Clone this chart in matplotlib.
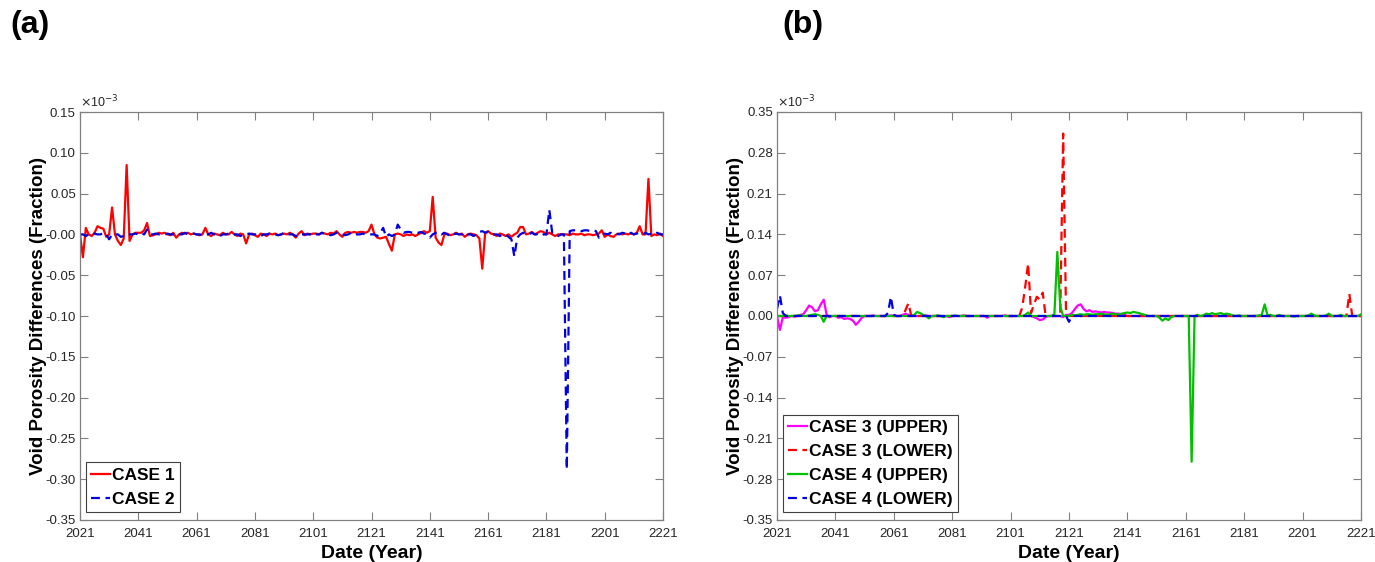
import matplotlib.pyplot as plt
import numpy as np

years = list(range(2021, 2222))

# panel (a), values in units of 1e-3
case_1 = [0.000, -0.028, 0.008, 0.000, -0.002, 0.002, 0.010, 0.008, 0.007, -0.003,
          0.000, 0.033, 0.000, -0.008, -0.013, -0.005, 0.085, -0.008, 0.000, 0.002,
          0.002, 0.002, 0.005, 0.014, -0.002, -0.001, 0.000, 0.002, 0.001, 0.002,
          0.000, -0.001, 0.002, -0.004, 0.000, 0.002, 0.001, 0.002, 0.000, 0.001,
          0.000, -0.001, 0.000, 0.008, 0.000, -0.002, 0.001, 0.000, -0.001, 0.002,
          0.000, 0.000, 0.003, 0.000, -0.002, 0.001, 0.000, -0.011, 0.000, 0.001,
          -0.001, -0.003, 0.001, 0.000, -0.002, 0.001, 0.000, 0.001, -0.001, 0.000,
          0.001, 0.000, 0.002, 0.000, -0.004, 0.001, 0.004, -0.001, 0.001, 0.000,
          0.001, 0.001, 0.000, 0.002, 0.001, 0.000, 0.002, 0.001, 0.004, 0.000,
          -0.003, 0.002, 0.003, 0.002, 0.003, 0.002, 0.003, 0.003, 0.002, 0.004,
          0.012, 0.000, -0.004, -0.005, -0.004, -0.003, -0.012, -0.020, 0.000, 0.001,
          0.000, -0.002, 0.000, -0.001, 0.000, -0.002, 0.000, 0.002, 0.004, 0.002,
          0.004, 0.046, -0.004, -0.010, -0.013, 0.000, 0.001, -0.001, 0.000, 0.002,
          0.000, 0.001, -0.003, 0.000, 0.001, 0.000, -0.001, -0.005, -0.042, 0.002,
          0.004, 0.001, 0.000, -0.002, 0.001, 0.000, -0.002, 0.000, -0.003, 0.000,
          0.002, 0.009, 0.009, 0.000, 0.001, 0.003, 0.000, 0.002, 0.004, 0.003,
          0.000, 0.002, 0.000, -0.002, 0.000, 0.000, 0.000, 0.000, -0.001, 0.001,
          0.000, 0.000, 0.001, -0.001, 0.000, 0.000, -0.001, 0.000, 0.001, 0.005,
          -0.003, 0.000, -0.002, -0.003, 0.000, 0.001, 0.000, 0.001, 0.000, 0.001,
          0.000, 0.002, 0.010, 0.000, 0.000, 0.068, -0.002, 0.000, -0.001, 0.001,
          -0.002]

case_2 = [0.000, 0.000, -0.002, 0.000, 0.000, 0.001, 0.000, 0.000, 0.002, 0.000,
          -0.006, 0.000, 0.000, 0.000, -0.003, -0.002, 0.000, 0.000, 0.000, 0.001,
          0.000, 0.002, 0.000, 0.006, 0.000, 0.000, 0.001, 0.000, 0.000, 0.000,
          0.001, 0.000, 0.000, -0.001, 0.000, 0.000, 0.002, 0.000, 0.000, 0.001,
          0.000, 0.000, -0.001, 0.000, 0.000, 0.002, 0.000, 0.000, -0.002, 0.000,
          0.000, 0.001, 0.000, 0.000, 0.000, -0.002, 0.000, 0.000, 0.001, 0.000,
          0.000, 0.000, -0.002, 0.000, 0.000, 0.001, 0.000, 0.000, -0.001, 0.000,
          0.002, 0.000, 0.000, 0.000, -0.002, 0.000, 0.000, 0.000, 0.000, 0.000,
          -0.002, 0.000, 0.000, 0.002, 0.000, 0.000, -0.001, 0.000, 0.002, 0.000,
          0.000, -0.001, 0.000, 0.002, 0.000, 0.000, 0.000, 0.001, 0.000, 0.000,
          0.000, 0.000, -0.002, 0.002, 0.008, -0.003, 0.000, -0.002, 0.000, 0.012,
          0.006, 0.002, 0.003, 0.003, 0.002, 0.003, 0.002, 0.003, 0.001, 0.000,
          -0.004, 0.000, 0.002, 0.003, 0.000, 0.002, 0.000, -0.002, 0.000, 0.001,
          0.000, 0.000, 0.002, 0.000, 0.000, -0.002, 0.000, 0.003, 0.004, 0.002,
          0.003, 0.000, 0.000, 0.000, -0.002, 0.000, 0.000, -0.003, -0.006, -0.027,
          -0.004, 0.000, 0.002, 0.000, 0.000, 0.002, 0.000, 0.000, -0.002, 0.000,
          0.000, 0.030, 0.002, 0.000, -0.002, 0.000, 0.000, -0.288, 0.004, 0.005,
          0.005, 0.005, 0.004, 0.005, 0.005, 0.004, 0.005, 0.004, -0.004, 0.000,
          0.001, 0.000, 0.002, 0.000, 0.001, 0.000, 0.002, 0.001, 0.000, 0.002,
          0.000, 0.001, 0.002, 0.000, 0.002, 0.000, 0.001, 0.000, 0.002, 0.000,
          0.000]

# panel (b), values in units of 1e-3
case_3_upper = [0.000, -0.024, -0.002, -0.003, -0.002, 0.000, -0.001, 0.000, 0.002, 0.003,
                0.010, 0.018, 0.015, 0.008, 0.010, 0.020, 0.028, 0.002, -0.002, 0.000,
                0.000, -0.003, -0.002, -0.005, -0.004, -0.005, -0.008, -0.015, -0.010, -0.003,
                0.000, 0.000, 0.000, 0.001, 0.000, 0.000, 0.000, 0.000, 0.000, 0.001,
                0.000, 0.000, 0.000, 0.002, 0.004, 0.002, 0.000, 0.000, 0.000, 0.000,
                0.000, 0.001, 0.000, 0.000, 0.000, 0.000, 0.000, 0.000, 0.000, -0.002,
                0.000, 0.000, 0.000, 0.000, 0.001, 0.000, 0.000, 0.000, 0.000, 0.000,
                0.000, 0.000, -0.003, 0.000, 0.000, 0.000, 0.000, 0.000, 0.001, 0.000,
                0.000, 0.000, 0.000, 0.000, 0.000, 0.000, 0.000, 0.000, -0.002, -0.004,
                -0.007, -0.006, -0.002, 0.000, 0.000, 0.000, 0.000, 0.000, -0.002, 0.002,
                0.002, 0.005, 0.012, 0.018, 0.020, 0.012, 0.008, 0.010, 0.007, 0.008,
                0.007, 0.006, 0.007, 0.006, 0.006, 0.005, 0.004, 0.004, 0.003, 0.002,
                0.000, 0.000, 0.000, 0.000, 0.000, 0.000, 0.000, 0.000, 0.000, 0.000,
                0.000, 0.000, 0.000, 0.000, 0.000, 0.000, 0.000, 0.000, 0.000, 0.000,
                0.000, 0.000, 0.000, 0.000, 0.000, 0.000, 0.000, 0.000, 0.000, 0.000,
                0.000, 0.000, 0.000, 0.000, 0.000, 0.000, 0.000, 0.000, 0.000, 0.000,
                0.000, 0.000, 0.000, 0.000, 0.000, 0.000, 0.000, 0.000, 0.000, 0.000,
                0.000, 0.000, 0.000, 0.000, 0.000, 0.000, 0.000, 0.000, 0.000, 0.000,
                0.000, 0.000, 0.000, 0.000, 0.000, 0.000, 0.000, 0.000, 0.000, 0.000,
                0.000, 0.000, 0.000, 0.000, 0.000, 0.000, 0.000, 0.000, 0.000, 0.000,
                0.000]

case_3_lower = [0.000, 0.000, 0.000, 0.000, 0.000, 0.000, 0.000, 0.000, 0.000, 0.000,
                0.000, 0.000, 0.000, 0.000, 0.000, 0.000, 0.000, 0.000, 0.000, 0.000,
                0.000, 0.000, 0.000, 0.000, 0.000, 0.000, 0.000, 0.000, 0.000, 0.000,
                0.000, 0.000, 0.000, 0.000, 0.000, 0.000, 0.000, 0.000, 0.000, 0.000,
                0.000, 0.000, 0.000, 0.000, 0.010, 0.022, 0.000, 0.000, 0.000, 0.000,
                0.000, 0.000, 0.000, 0.000, 0.000, 0.000, 0.000, 0.000, 0.000, 0.000,
                0.000, 0.000, 0.000, 0.000, 0.000, 0.000, 0.000, 0.000, 0.000, 0.000,
                0.000, 0.000, 0.000, 0.000, 0.000, 0.000, 0.000, 0.000, 0.000, 0.000,
                0.000, 0.000, 0.000, 0.000, 0.015, 0.050, 0.090, 0.005, 0.020, 0.033,
                0.028, 0.040, 0.000, 0.000, 0.000, 0.000, 0.000, 0.002, 0.313, 0.000,
                0.000, 0.000, 0.000, 0.000, 0.000, 0.000, 0.000, 0.000, 0.000, 0.000,
                0.000, 0.000, 0.000, 0.000, 0.000, 0.000, 0.000, 0.000, 0.000, 0.000,
                0.000, 0.000, 0.000, 0.000, 0.000, 0.000, 0.000, 0.000, 0.000, 0.000,
                0.000, 0.000, 0.000, 0.000, 0.000, 0.000, 0.000, 0.000, 0.000, 0.000,
                0.000, 0.000, 0.000, 0.000, 0.000, 0.000, 0.000, 0.000, 0.000, 0.000,
                0.000, 0.000, 0.000, 0.000, 0.000, 0.000, 0.000, 0.000, 0.000, 0.000,
                0.000, 0.000, 0.000, 0.000, 0.000, 0.000, 0.000, 0.000, 0.000, 0.000,
                0.000, 0.000, 0.000, 0.000, 0.000, 0.000, 0.000, 0.000, 0.000, 0.000,
                0.000, 0.000, 0.000, 0.000, 0.000, 0.000, 0.000, 0.000, 0.000, 0.000,
                0.000, 0.000, 0.000, 0.000, 0.000, 0.000, 0.038, 0.000, 0.000, 0.000,
                0.000]

case_4_upper = [0.000, 0.000, 0.000, 0.001, 0.000, 0.000, 0.000, 0.001, 0.001, 0.000,
                0.000, 0.001, 0.002, 0.003, 0.002, 0.000, -0.010, 0.000, 0.000, 0.000,
                0.000, 0.000, 0.000, 0.000, 0.000, 0.000, 0.000, 0.000, 0.000, 0.000,
                0.000, 0.000, 0.000, 0.000, 0.000, 0.000, 0.000, 0.000, 0.000, 0.000,
                0.000, 0.000, 0.000, 0.000, 0.000, 0.000, 0.000, 0.002, 0.007, 0.005,
                0.002, 0.000, -0.004, 0.000, 0.000, 0.001, 0.000, -0.002, 0.000, 0.000,
                0.000, 0.001, 0.000, 0.000, 0.000, 0.000, 0.000, 0.000, 0.000, 0.000,
                0.000, 0.000, 0.000, 0.000, 0.000, 0.000, 0.000, 0.000, 0.000, 0.000,
                0.000, 0.000, 0.000, 0.000, 0.000, 0.002, 0.006, 0.000, 0.000, 0.000,
                0.000, 0.000, 0.000, 0.000, 0.000, 0.003, 0.110, 0.016, 0.000, 0.000,
                0.000, 0.002, 0.001, 0.002, 0.003, 0.002, 0.003, 0.003, 0.002, 0.003,
                0.003, 0.004, 0.003, 0.002, 0.003, 0.004, 0.003, 0.002, 0.004, 0.005,
                0.006, 0.005, 0.007, 0.006, 0.005, 0.003, 0.002, 0.000, 0.000, 0.000,
                0.000, -0.003, -0.008, -0.004, -0.007, -0.002, 0.000, 0.000, 0.000, 0.000,
                0.000, 0.000, -0.250, 0.000, 0.002, 0.000, 0.001, 0.004, 0.003, 0.005,
                0.003, 0.004, 0.005, 0.003, 0.004, 0.003, 0.001, 0.000, 0.001, 0.000,
                0.000, 0.000, 0.000, 0.000, 0.000, 0.001, 0.002, 0.020, 0.001, 0.002,
                0.000, 0.000, 0.002, 0.000, 0.000, 0.000, 0.000, -0.001, 0.000, 0.000,
                0.000, 0.000, 0.001, 0.004, 0.001, 0.000, 0.000, 0.000, 0.001, 0.004,
                0.000, 0.000, 0.000, 0.002, 0.000, 0.000, 0.000, 0.000, 0.000, 0.000,
                0.003]

case_4_lower = [0.012, 0.035, 0.005, 0.000, 0.000, 0.000, 0.000, 0.000, 0.000, 0.000,
                0.000, 0.000, 0.000, 0.000, 0.000, 0.000, 0.000, 0.000, 0.000, 0.000,
                0.000, 0.000, 0.000, 0.000, 0.000, 0.000, 0.000, 0.000, 0.000, 0.000,
                0.000, 0.000, 0.000, 0.000, 0.000, 0.000, 0.000, 0.000, 0.005, 0.033,
                0.002, 0.000, 0.000, 0.000, 0.000, 0.000, 0.000, 0.000, 0.000, 0.000,
                0.000, 0.000, 0.000, 0.000, 0.000, 0.000, 0.000, 0.000, 0.000, 0.000,
                0.000, 0.000, 0.000, 0.000, 0.000, 0.000, 0.000, 0.000, 0.000, 0.000,
                0.000, 0.000, 0.000, 0.000, 0.000, 0.000, 0.000, 0.000, 0.000, 0.000,
                0.000, 0.000, 0.000, 0.000, 0.000, 0.000, 0.000, 0.000, 0.000, 0.000,
                0.000, 0.000, 0.000, 0.000, 0.000, 0.000, 0.000, 0.000, 0.000, 0.000,
                -0.010, 0.000, 0.000, 0.000, 0.000, 0.000, 0.000, 0.000, 0.000, 0.000,
                0.000, 0.000, 0.000, 0.000, 0.000, 0.000, 0.000, 0.000, 0.000, 0.000,
                0.000, 0.000, 0.000, 0.000, 0.000, 0.000, 0.000, 0.000, 0.000, 0.000,
                0.000, 0.000, 0.000, 0.000, 0.000, 0.000, 0.000, 0.000, 0.000, 0.000,
                0.000, 0.000, 0.000, 0.000, 0.000, 0.000, 0.000, 0.000, 0.000, 0.000,
                0.000, 0.000, 0.000, 0.000, 0.000, 0.000, 0.000, 0.000, 0.000, 0.000,
                0.000, 0.000, 0.000, 0.000, 0.000, 0.000, 0.000, 0.000, 0.000, 0.000,
                0.000, 0.000, 0.000, 0.000, 0.000, 0.000, 0.000, 0.000, 0.000, 0.000,
                0.000, 0.000, 0.000, 0.000, 0.000, 0.000, 0.000, 0.000, 0.000, 0.000,
                0.000, 0.000, 0.000, 0.000, 0.000, 0.000, 0.000, 0.000, 0.000, 0.000,
                0.000]

x_ticks = [2021, 2041, 2061, 2081, 2101, 2121, 2141, 2161, 2181, 2201, 2221]
y_ticks_a = [0.15, 0.10, 0.05, 0.0, -0.05, -0.10, -0.15, -0.20, -0.25, -0.30, -0.35]
y_labels_a = ["0.15", "0.10", "0.05", "-0.00", "-0.05", "-0.10", "-0.15", "-0.20", "-0.25", "-0.30", "-0.35"]
y_ticks_b = [0.35, 0.28, 0.21, 0.14, 0.07, 0.0, -0.07, -0.14, -0.21, -0.28, -0.35]
y_labels_b = ["0.35", "0.28", "0.21", "0.14", "0.07", "0.00", "-0.07", "-0.14", "-0.21", "-0.28", "-0.35"]

plt.rcParams['font.family'] = ['Liberation Sans', 'DejaVu Sans']

DASH = (0, (4, 2.5))
GRAY = '#808080'


def style_axis(ax, y_ticks, y_labels, y_min, y_max):
    ax.set_xlim(2021, 2221)
    ax.set_ylim(y_min, y_max)
    ax.set_xticks(x_ticks)
    ax.set_xticklabels([str(t) for t in x_ticks], fontsize=9.5, color='#262626')
    ax.set_yticks(y_ticks)
    ax.set_yticklabels(y_labels, fontsize=9.5, color='#262626')
    ax.tick_params(direction='in', length=6, width=0.8, color=GRAY, top=True, right=True)
    ax.tick_params(axis='x', pad=6)
    ax.tick_params(axis='y', pad=3)
    for spine in ax.spines.values():
        spine.set_color(GRAY)
        spine.set_linewidth(0.9)
    ax.set_xlabel("Date (Year)", fontsize=14, fontweight='bold', labelpad=3)
    ax.set_ylabel("Void Porosity Differences (Fraction)", fontsize=13.5, fontweight='bold', labelpad=-1)
    ax.text(0.0, 1.005, r"$\times$10$^{-3}$", transform=ax.transAxes, fontsize=9,
            color='#262626', va='bottom', ha='left')


fig = plt.figure(figsize=(13.75, 5.62), dpi=100)
ax1 = fig.add_axes([80 / 1375, 42 / 562, 583 / 1375, 408 / 562])
ax2 = fig.add_axes([777 / 1375, 42 / 562, 584 / 1375, 408 / 562])

ax1.plot(years, case_1, color='#ff0000', linewidth=1.6, label='CASE 1')
ax1.plot(years, case_2, color='#0000e0', linewidth=1.6, linestyle=DASH, label='CASE 2')
style_axis(ax1, y_ticks_a, y_labels_a, -0.35, 0.15)

ax2.plot(years, case_3_upper, color='#ff00ff', linewidth=1.6, label='CASE 3 (UPPER)')
ax2.plot(years, case_3_lower, color='#ff0000', linewidth=1.6, linestyle=DASH, label='CASE 3 (LOWER)')
ax2.plot(years, case_4_upper, color='#00c000', linewidth=1.6, label='CASE 4 (UPPER)')
ax2.plot(years, case_4_lower, color='#0000e0', linewidth=1.6, linestyle=DASH, label='CASE 4 (LOWER)')
style_axis(ax2, y_ticks_b, y_labels_b, -0.35, 0.35)

for ax in [ax1, ax2]:
    leg = ax.legend(loc='lower left', bbox_to_anchor=(0.01, 0.02), borderaxespad=0,
                    prop={'weight': 'bold', 'size': 12.5},
                    handlelength=1.1, handletextpad=0.1, labelspacing=0.5,
                    borderpad=0.3, fancybox=False, framealpha=1)
    leg.get_frame().set_edgecolor('#404040')
    leg.get_frame().set_linewidth(0.8)

fig.text(10 / 1375, 1 - 25 / 562, "(a)", fontsize=23, fontweight='bold', va='center', ha='left')
fig.text(782 / 1375, 1 - 25 / 562, "(b)", fontsize=23, fontweight='bold', va='center', ha='left')

fig.savefig("out.png", dpi=100)
